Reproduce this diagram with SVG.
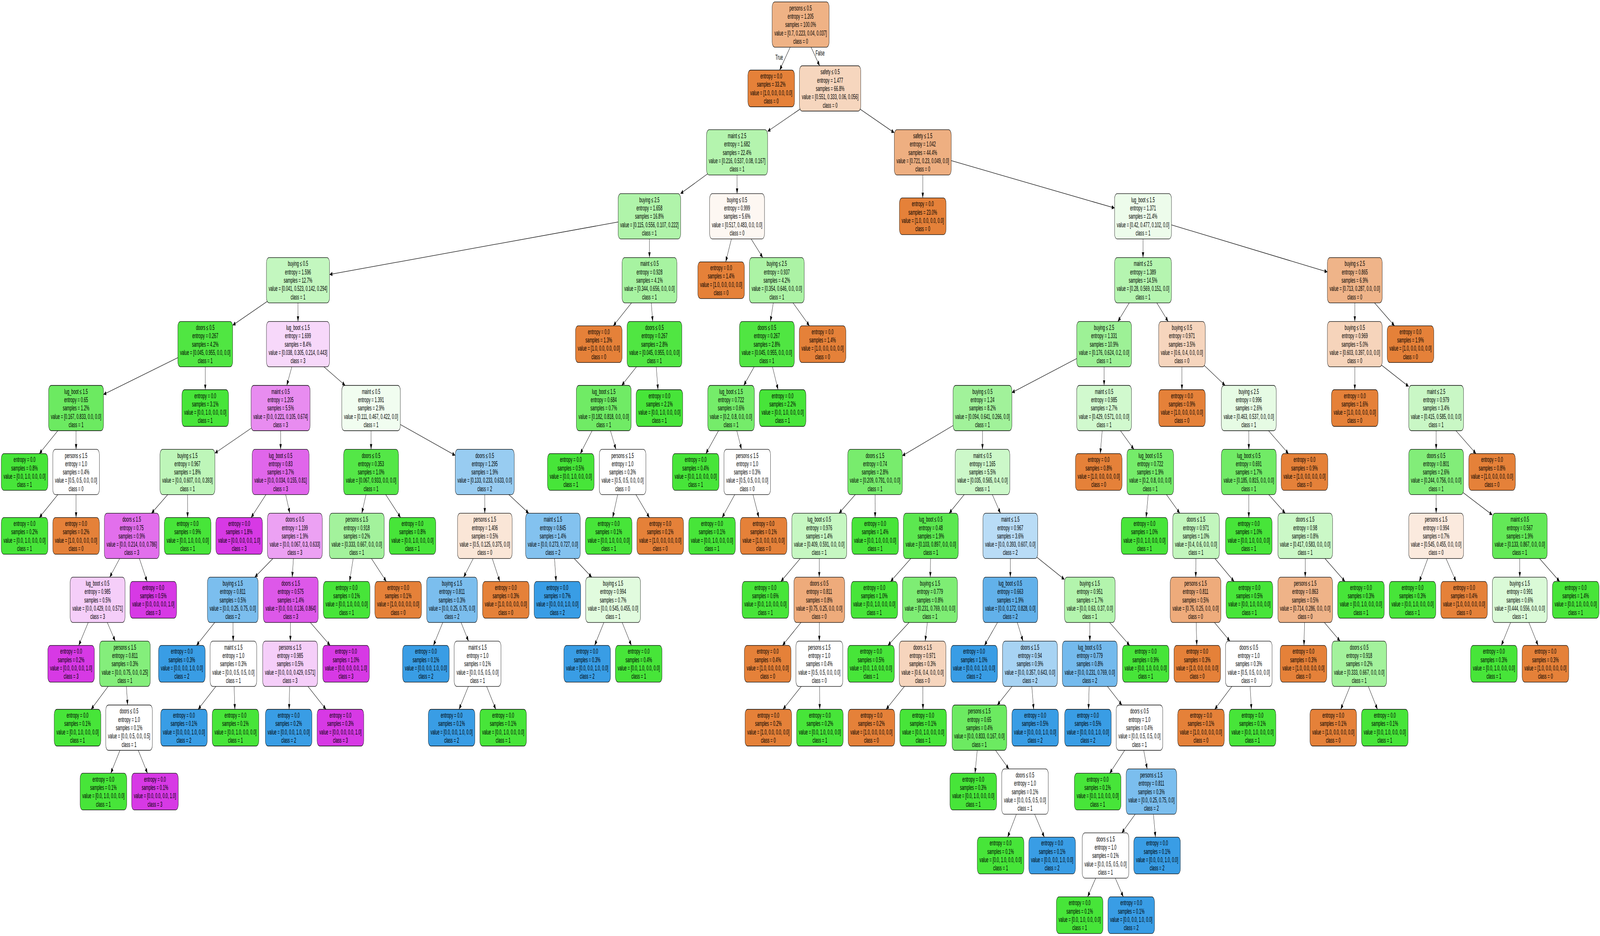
<svg xmlns="http://www.w3.org/2000/svg" width="7729" height="2397" viewBox="0 0 7729 2397" preserveAspectRatio="none">
<defs>
<style>
svg{width:100%;height:100%}
rect{stroke:#000;stroke-width:1.3px}
rect.bg{fill:#fff;stroke:none}
.o{fill:#e58139}.g{fill:#47e539}.b{fill:#399de5}.m{fill:#d739e5}.w{fill:#ffffff}
text{font-family:"Liberation Sans",Arial,Helvetica,sans-serif;font-size:18px;text-anchor:middle;fill:#000}
#edges path{stroke:#000;stroke-width:1.3px;fill:none;marker-end:url(#ah)}
</style>
<marker id="ah" markerUnits="userSpaceOnUse" markerWidth="15" markerHeight="12" refX="13.5" refY="5.5" orient="auto"><path d="M0,0 L13.5,5.5 L0,11 z" fill="#000"/></marker>
</defs>
<rect class="bg" x="0" y="0" width="7729" height="2397"/>
<g id="edges">
<path d="M3867.5,62.8 L3766.3,179.5"/>
<path d="M3867.5,62.8 L3959.5,168.5"/>
<path d="M4010,226.5 L3708,336.5"/>
<path d="M4010,226.5 L4320,339.9"/>
<path d="M3560.5,390.2 L3287.1,495.9"/>
<path d="M3560.5,390.2 L3560.5,495.9"/>
<path d="M3137,553.9 L1592,702.9"/>
<path d="M3137,553.9 L3137.3,659.6"/>
<path d="M1439.5,717.6 L1124,832.9"/>
<path d="M1439.5,717.6 L1439.5,823.3"/>
<path d="M991.5,881.3 L500,1010.2"/>
<path d="M991.5,881.3 L991.5,998"/>
<path d="M367.5,1045 L190,1161.7"/>
<path d="M367.5,1045 L367.5,1150.7"/>
<path d="M367.5,1208.7 L190,1325.4"/>
<path d="M367.5,1208.7 L367.5,1325.4"/>
<path d="M1439.5,881.3 L1385.3,987"/>
<path d="M1439.5,881.3 L1667.4,987"/>
<path d="M1355.5,1045 L1038,1160.5"/>
<path d="M1355.5,1045 L1355.5,1150.7"/>
<path d="M905.5,1208.7 L731.8,1314.4"/>
<path d="M905.5,1208.7 L906.2,1325.4"/>
<path d="M636.5,1372.4 L530,1478.1"/>
<path d="M636.5,1372.4 L710.6,1489.1"/>
<path d="M471.5,1536.1 L380.3,1652.8"/>
<path d="M471.5,1536.1 L556.7,1641.8"/>
<path d="M603.5,1699.8 L440.2,1816.5"/>
<path d="M603.5,1699.8 L616.4,1805.5"/>
<path d="M623.5,1863.5 L535.1,1980.2"/>
<path d="M623.5,1863.5 L712.6,1980.2"/>
<path d="M1355.5,1208.7 L1212.9,1325.4"/>
<path d="M1355.5,1208.7 L1400.1,1314.4"/>
<path d="M1424.5,1372.4 L1230.8,1478.1"/>
<path d="M1424.5,1372.4 L1411.6,1478.1"/>
<path d="M1124.5,1536.1 L949.1,1652.8"/>
<path d="M1124.5,1536.1 L1126.4,1641.8"/>
<path d="M1127.5,1699.8 L957.1,1816.5"/>
<path d="M1127.5,1699.8 L1134.6,1816.5"/>
<path d="M1404.5,1536.1 L1402.6,1641.8"/>
<path d="M1404.5,1536.1 L1594.8,1652.8"/>
<path d="M1401.5,1699.8 L1396.5,1816.5"/>
<path d="M1401.5,1699.8 L1574.7,1816.5"/>
<path d="M1792.5,1045 L1792.5,1150.7"/>
<path d="M1792.5,1045 L2199,1166.2"/>
<path d="M1792.5,1208.7 L1747.9,1314.4"/>
<path d="M1792.5,1208.7 L1935.1,1325.4"/>
<path d="M1723.5,1372.4 L1688.6,1489.1"/>
<path d="M1723.5,1372.4 L1866.1,1489.1"/>
<path d="M2341.5,1208.7 L2341.8,1314.4"/>
<path d="M2341.5,1208.7 L2554.3,1314.4"/>
<path d="M2342,1372.4 L2239.7,1478.1"/>
<path d="M2342,1372.4 L2414.4,1489.1"/>
<path d="M2183.5,1536.1 L2093.7,1652.8"/>
<path d="M2183.5,1536.1 L2263.2,1641.8"/>
<path d="M2307,1699.8 L2217.5,1816.5"/>
<path d="M2307,1699.8 L2395,1816.5"/>
<path d="M2671,1372.4 L2686.3,1489.1"/>
<path d="M2671,1372.4 L2858.6,1478.1"/>
<path d="M2961.5,1536.1 L2872.4,1652.8"/>
<path d="M2961.5,1536.1 L3049.9,1652.8"/>
<path d="M3137.5,717.6 L2962.8,834.3"/>
<path d="M3137.5,717.6 L3153,823.3"/>
<path d="M3161.5,881.3 L3003.3,987"/>
<path d="M3161.5,881.3 L3178.6,998"/>
<path d="M2916.5,1045 L2803.2,1161.7"/>
<path d="M2916.5,1045 L2975.3,1150.7"/>
<path d="M3007.5,1208.7 L2959.7,1325.4"/>
<path d="M3007.5,1208.7 L3137.2,1325.4"/>
<path d="M3560.5,553.9 L3505.6,670.6"/>
<path d="M3560.5,553.9 L3684.5,659.6"/>
<path d="M3752.5,717.6 L3721.5,823.3"/>
<path d="M3752.5,717.6 L3910,834.3"/>
<path d="M3704.5,881.3 L3592.8,987"/>
<path d="M3704.5,881.3 L3758.7,998"/>
<path d="M3531.5,1045 L3409.6,1161.7"/>
<path d="M3531.5,1045 L3581.9,1150.7"/>
<path d="M3609.5,1208.7 L3488.3,1325.4"/>
<path d="M3609.5,1208.7 L3665.8,1325.4"/>
<path d="M4457.5,390.2 L4457.5,506.9"/>
<path d="M4457.5,390.2 L5384,532.7"/>
<path d="M5521.5,553.9 L5521.5,659.6"/>
<path d="M5521.5,553.9 L6412,696.4"/>
<path d="M5521.5,717.6 L5400.1,823.3"/>
<path d="M5521.5,717.6 L5642.9,823.3"/>
<path d="M5333.5,881.3 L4888,1005.4"/>
<path d="M5333.5,881.3 L5333.5,987"/>
<path d="M4746,1045 L4359,1167.1"/>
<path d="M4746,1045 L4746,1150.7"/>
<path d="M4227,1208.7 L4053,1314.4"/>
<path d="M4227,1208.7 L4227.4,1325.4"/>
<path d="M3957.5,1372.4 L3772.1,1489.1"/>
<path d="M3957.5,1372.4 L3957.5,1478.1"/>
<path d="M3957.5,1536.1 L3780,1652.8"/>
<path d="M3957.5,1536.1 L3957.8,1641.8"/>
<path d="M3958,1699.8 L3782.3,1816.5"/>
<path d="M3958,1699.8 L3959.8,1816.5"/>
<path d="M4746,1208.7 L4584.9,1314.4"/>
<path d="M4746,1208.7 L4832.8,1314.4"/>
<path d="M4496.5,1372.4 L4301.9,1489.1"/>
<path d="M4496.5,1372.4 L4493.9,1478.1"/>
<path d="M4492.5,1536.1 L4289.3,1652.8"/>
<path d="M4492.5,1536.1 L4469.3,1641.8"/>
<path d="M4456.5,1699.8 L4280.4,1816.5"/>
<path d="M4456.5,1699.8 L4458.6,1816.5"/>
<path d="M4880.5,1372.4 L4880.5,1478.1"/>
<path d="M4880.5,1372.4 L5142,1483.9"/>
<path d="M4880.5,1536.1 L4755.7,1652.8"/>
<path d="M4880.5,1536.1 L4941.8,1641.8"/>
<path d="M4975.5,1699.8 L4817.6,1805.5"/>
<path d="M4975.5,1699.8 L4993.3,1816.5"/>
<path d="M4731,1863.5 L4710,1980.2"/>
<path d="M4731,1863.5 L4873.4,1969.2"/>
<path d="M4951.5,2027.2 L4867.4,2143.9"/>
<path d="M4951.5,2027.2 L5044.9,2143.9"/>
<path d="M5264.5,1536.1 L5264.5,1641.8"/>
<path d="M5264.5,1536.1 L5457,1652.8"/>
<path d="M5264.5,1699.8 L5258.1,1816.5"/>
<path d="M5264.5,1699.8 L5419.5,1805.5"/>
<path d="M5504.5,1863.5 L5360.5,1980.2"/>
<path d="M5504.5,1863.5 L5541.6,1969.2"/>
<path d="M5562,2027.2 L5419,2132.9"/>
<path d="M5562,2027.2 L5581.6,2143.9"/>
<path d="M5340.5,2190.9 L5253.9,2296.7"/>
<path d="M5340.5,2190.9 L5426.4,2296.7"/>
<path d="M5333.5,1045 L5315,1161.7"/>
<path d="M5333.5,1045 L5477.5,1150.7"/>
<path d="M5556.5,1208.7 L5536.5,1325.4"/>
<path d="M5556.5,1208.7 L5699.2,1314.4"/>
<path d="M5777.5,1372.4 L5776.2,1478.1"/>
<path d="M5777.5,1372.4 L5961.4,1489.1"/>
<path d="M5775.5,1536.1 L5781.2,1652.8"/>
<path d="M5775.5,1536.1 L5941.4,1641.8"/>
<path d="M6032.5,1699.8 L5867.8,1816.5"/>
<path d="M6032.5,1699.8 L6045.3,1816.5"/>
<path d="M5709.5,881.3 L5709.5,998"/>
<path d="M5709.5,881.3 L5918.1,987"/>
<path d="M6032.5,1045 L6032.5,1150.7"/>
<path d="M6032.5,1045 L6224.3,1161.7"/>
<path d="M6032.5,1208.7 L6032.5,1325.4"/>
<path d="M6032.5,1208.7 L6208.5,1314.4"/>
<path d="M6305,1372.4 L6305,1478.1"/>
<path d="M6305,1372.4 L6497.1,1489.1"/>
<path d="M6305,1536.1 L6298.9,1652.8"/>
<path d="M6305,1536.1 L6473.5,1641.8"/>
<path d="M6566,1699.8 L6476.5,1816.5"/>
<path d="M6566,1699.8 L6654,1816.5"/>
<path d="M6544.5,717.6 L6544.5,823.3"/>
<path d="M6544.5,717.6 L6736.3,834.3"/>
<path d="M6544.5,881.3 L6544.5,998"/>
<path d="M6544.5,881.3 L6805,989.8"/>
<path d="M6937.5,1045 L6937.5,1150.7"/>
<path d="M6937.5,1045 L7130,1161.7"/>
<path d="M6937.5,1208.7 L6937.5,1314.4"/>
<path d="M6937.5,1208.7 L7209,1318.7"/>
<path d="M6937.5,1372.4 L6856.2,1489.1"/>
<path d="M6937.5,1372.4 L7033.7,1489.1"/>
<path d="M7341.5,1372.4 L7341.5,1478.1"/>
<path d="M7341.5,1372.4 L7534,1489.1"/>
<path d="M7341.5,1536.1 L7252.4,1652.8"/>
<path d="M7341.5,1536.1 L7429.9,1652.8"/>
</g>
<g id="edge-labels">
<text x="3764" y="152.7">True</text>
<text x="3961.5" y="142">False</text>
</g>
<g id="nodes">
<g id="n0"><rect x="3730" y="4.8" width="275" height="116" rx="13" fill="#efb285"/><text x="3867.5" y="26.7"><tspan x="3867.5">persons ≤ 0.5</tspan><tspan x="3867.5" dy="21.3">entropy = 1.205</tspan><tspan x="3867.5" dy="21.3">samples = 100.0%</tspan><tspan x="3867.5" dy="21.3">value = [0.7, 0.223, 0.04, 0.037]</tspan><tspan x="3867.5" dy="21.3">class = 0</tspan></text></g>
<g id="n1"><rect class="o" x="3613" y="179.5" width="225" height="94" rx="13"/><text x="3725.5" y="201.05"><tspan x="3725.5">entropy = 0.0</tspan><tspan x="3725.5" dy="21.3">samples = 33.2%</tspan><tspan x="3725.5" dy="21.3">value = [1.0, 0.0, 0.0, 0.0]</tspan><tspan x="3725.5" dy="21.3">class = 0</tspan></text></g>
<g id="n2"><rect x="3862" y="168.5" width="296" height="116" rx="13" fill="#f6d6be"/><text x="4010" y="190.4"><tspan x="4010">safety ≤ 0.5</tspan><tspan x="4010" dy="21.3">entropy = 1.477</tspan><tspan x="4010" dy="21.3">samples = 66.8%</tspan><tspan x="4010" dy="21.3">value = [0.551, 0.333, 0.06, 0.056]</tspan><tspan x="4010" dy="21.3">class = 0</tspan></text></g>
<g id="n3"><rect x="3413" y="332.2" width="295" height="116" rx="13" fill="#b4f4ae"/><text x="3560.5" y="354.1"><tspan x="3560.5">maint ≤ 2.5</tspan><tspan x="3560.5" dy="21.3">entropy = 1.682</tspan><tspan x="3560.5" dy="21.3">samples = 22.4%</tspan><tspan x="3560.5" dy="21.3">value = [0.216, 0.537, 0.08, 0.167]</tspan><tspan x="3560.5" dy="21.3">class = 1</tspan></text></g>
<g id="n4"><rect x="2986" y="495.9" width="302" height="116" rx="13" fill="#b0f4aa"/><text x="3137" y="517.8"><tspan x="3137">buying ≤ 2.5</tspan><tspan x="3137" dy="21.3">entropy = 1.658</tspan><tspan x="3137" dy="21.3">samples = 16.8%</tspan><tspan x="3137" dy="21.3">value = [0.115, 0.556, 0.107, 0.222]</tspan><tspan x="3137" dy="21.3">class = 1</tspan></text></g>
<g id="n5"><rect x="1287" y="659.6" width="305" height="116" rx="13" fill="#c3f7bf"/><text x="1439.5" y="681.5"><tspan x="1439.5">buying ≤ 0.5</tspan><tspan x="1439.5" dy="21.3">entropy = 1.596</tspan><tspan x="1439.5" dy="21.3">samples = 12.7%</tspan><tspan x="1439.5" dy="21.3">value = [0.041, 0.523, 0.142, 0.294]</tspan><tspan x="1439.5" dy="21.3">class = 1</tspan></text></g>
<g id="n6"><rect x="859" y="823.3" width="265" height="116" rx="13" fill="#50e642"/><text x="991.5" y="845.2"><tspan x="991.5">doors ≤ 0.5</tspan><tspan x="991.5" dy="21.3">entropy = 0.267</tspan><tspan x="991.5" dy="21.3">samples = 4.2%</tspan><tspan x="991.5" dy="21.3">value = [0.045, 0.955, 0.0, 0.0]</tspan><tspan x="991.5" dy="21.3">class = 1</tspan></text></g>
<g id="n7"><rect x="235" y="987" width="265" height="116" rx="13" fill="#6cea61"/><text x="367.5" y="1008.9"><tspan x="367.5">lug_boot ≤ 1.5</tspan><tspan x="367.5" dy="21.3">entropy = 0.65</tspan><tspan x="367.5" dy="21.3">samples = 1.2%</tspan><tspan x="367.5" dy="21.3">value = [0.167, 0.833, 0.0, 0.0]</tspan><tspan x="367.5" dy="21.3">class = 1</tspan></text></g>
<g id="n8"><rect class="g" x="6" y="1161.7" width="225" height="94" rx="13"/><text x="118.5" y="1183.25"><tspan x="118.5">entropy = 0.0</tspan><tspan x="118.5" dy="21.3">samples = 0.8%</tspan><tspan x="118.5" dy="21.3">value = [0.0, 1.0, 0.0, 0.0]</tspan><tspan x="118.5" dy="21.3">class = 1</tspan></text></g>
<g id="n9"><rect class="w" x="255" y="1150.7" width="225" height="116" rx="13"/><text x="367.5" y="1172.6"><tspan x="367.5">persons ≤ 1.5</tspan><tspan x="367.5" dy="21.3">entropy = 1.0</tspan><tspan x="367.5" dy="21.3">samples = 0.4%</tspan><tspan x="367.5" dy="21.3">value = [0.5, 0.5, 0.0, 0.0]</tspan><tspan x="367.5" dy="21.3">class = 0</tspan></text></g>
<g id="n10"><rect class="g" x="6" y="1325.4" width="225" height="94" rx="13"/><text x="118.5" y="1346.95"><tspan x="118.5">entropy = 0.0</tspan><tspan x="118.5" dy="21.3">samples = 0.2%</tspan><tspan x="118.5" dy="21.3">value = [0.0, 1.0, 0.0, 0.0]</tspan><tspan x="118.5" dy="21.3">class = 1</tspan></text></g>
<g id="n11"><rect class="o" x="255" y="1325.4" width="225" height="94" rx="13"/><text x="367.5" y="1346.95"><tspan x="367.5">entropy = 0.0</tspan><tspan x="367.5" dy="21.3">samples = 0.2%</tspan><tspan x="367.5" dy="21.3">value = [1.0, 0.0, 0.0, 0.0]</tspan><tspan x="367.5" dy="21.3">class = 0</tspan></text></g>
<g id="n12"><rect class="g" x="879" y="998" width="225" height="94" rx="13"/><text x="991.5" y="1019.55"><tspan x="991.5">entropy = 0.0</tspan><tspan x="991.5" dy="21.3">samples = 3.1%</tspan><tspan x="991.5" dy="21.3">value = [0.0, 1.0, 0.0, 0.0]</tspan><tspan x="991.5" dy="21.3">class = 1</tspan></text></g>
<g id="n13"><rect x="1287" y="823.3" width="305" height="116" rx="13" fill="#f7d8fa"/><text x="1439.5" y="845.2"><tspan x="1439.5">lug_boot ≤ 1.5</tspan><tspan x="1439.5" dy="21.3">entropy = 1.699</tspan><tspan x="1439.5" dy="21.3">samples = 8.4%</tspan><tspan x="1439.5" dy="21.3">value = [0.038, 0.305, 0.214, 0.443]</tspan><tspan x="1439.5" dy="21.3">class = 3</tspan></text></g>
<g id="n14"><rect x="1213" y="987" width="285" height="116" rx="13" fill="#e88cf0"/><text x="1355.5" y="1008.9"><tspan x="1355.5">maint ≤ 0.5</tspan><tspan x="1355.5" dy="21.3">entropy = 1.205</tspan><tspan x="1355.5" dy="21.3">samples = 5.5%</tspan><tspan x="1355.5" dy="21.3">value = [0.0, 0.221, 0.105, 0.674]</tspan><tspan x="1355.5" dy="21.3">class = 3</tspan></text></g>
<g id="n15"><rect x="773" y="1150.7" width="265" height="116" rx="13" fill="#bef6b9"/><text x="905.5" y="1172.6"><tspan x="905.5">buying ≤ 1.5</tspan><tspan x="905.5" dy="21.3">entropy = 0.967</tspan><tspan x="905.5" dy="21.3">samples = 1.8%</tspan><tspan x="905.5" dy="21.3">value = [0.0, 0.607, 0.0, 0.393]</tspan><tspan x="905.5" dy="21.3">class = 1</tspan></text></g>
<g id="n16"><rect x="504" y="1314.4" width="265" height="116" rx="13" fill="#e26fec"/><text x="636.5" y="1336.3"><tspan x="636.5">doors ≤ 1.5</tspan><tspan x="636.5" dy="21.3">entropy = 0.75</tspan><tspan x="636.5" dy="21.3">samples = 0.9%</tspan><tspan x="636.5" dy="21.3">value = [0.0, 0.214, 0.0, 0.786]</tspan><tspan x="636.5" dy="21.3">class = 3</tspan></text></g>
<g id="n17"><rect x="339" y="1478.1" width="265" height="116" rx="13" fill="#f5cef9"/><text x="471.5" y="1500"><tspan x="471.5">lug_boot ≤ 0.5</tspan><tspan x="471.5" dy="21.3">entropy = 0.985</tspan><tspan x="471.5" dy="21.3">samples = 0.5%</tspan><tspan x="471.5" dy="21.3">value = [0.0, 0.429, 0.0, 0.571]</tspan><tspan x="471.5" dy="21.3">class = 3</tspan></text></g>
<g id="n18"><rect class="m" x="231" y="1652.8" width="225" height="94" rx="13"/><text x="343.5" y="1674.35"><tspan x="343.5">entropy = 0.0</tspan><tspan x="343.5" dy="21.3">samples = 0.2%</tspan><tspan x="343.5" dy="21.3">value = [0.0, 0.0, 0.0, 1.0]</tspan><tspan x="343.5" dy="21.3">class = 3</tspan></text></g>
<g id="n19"><rect x="481" y="1641.8" width="245" height="116" rx="13" fill="#84ee7b"/><text x="603.5" y="1663.7"><tspan x="603.5">persons ≤ 1.5</tspan><tspan x="603.5" dy="21.3">entropy = 0.811</tspan><tspan x="603.5" dy="21.3">samples = 0.3%</tspan><tspan x="603.5" dy="21.3">value = [0.0, 0.75, 0.0, 0.25]</tspan><tspan x="603.5" dy="21.3">class = 1</tspan></text></g>
<g id="n20"><rect class="g" x="262" y="1816.5" width="225" height="94" rx="13"/><text x="374.5" y="1838.05"><tspan x="374.5">entropy = 0.0</tspan><tspan x="374.5" dy="21.3">samples = 0.1%</tspan><tspan x="374.5" dy="21.3">value = [0.0, 1.0, 0.0, 0.0]</tspan><tspan x="374.5" dy="21.3">class = 1</tspan></text></g>
<g id="n21"><rect class="w" x="511" y="1805.5" width="225" height="116" rx="13"/><text x="623.5" y="1827.4"><tspan x="623.5">doors ≤ 0.5</tspan><tspan x="623.5" dy="21.3">entropy = 1.0</tspan><tspan x="623.5" dy="21.3">samples = 0.1%</tspan><tspan x="623.5" dy="21.3">value = [0.0, 0.5, 0.0, 0.5]</tspan><tspan x="623.5" dy="21.3">class = 1</tspan></text></g>
<g id="n22"><rect class="g" x="387" y="1980.2" width="225" height="94" rx="13"/><text x="499.5" y="2001.75"><tspan x="499.5">entropy = 0.0</tspan><tspan x="499.5" dy="21.3">samples = 0.1%</tspan><tspan x="499.5" dy="21.3">value = [0.0, 1.0, 0.0, 0.0]</tspan><tspan x="499.5" dy="21.3">class = 1</tspan></text></g>
<g id="n23"><rect class="m" x="636" y="1980.2" width="225" height="94" rx="13"/><text x="748.5" y="2001.75"><tspan x="748.5">entropy = 0.0</tspan><tspan x="748.5" dy="21.3">samples = 0.1%</tspan><tspan x="748.5" dy="21.3">value = [0.0, 0.0, 0.0, 1.0]</tspan><tspan x="748.5" dy="21.3">class = 3</tspan></text></g>
<g id="n24"><rect class="m" x="628" y="1489.1" width="225" height="94" rx="13"/><text x="740.5" y="1510.65"><tspan x="740.5">entropy = 0.0</tspan><tspan x="740.5" dy="21.3">samples = 0.5%</tspan><tspan x="740.5" dy="21.3">value = [0.0, 0.0, 0.0, 1.0]</tspan><tspan x="740.5" dy="21.3">class = 3</tspan></text></g>
<g id="n25"><rect class="g" x="794" y="1325.4" width="225" height="94" rx="13"/><text x="906.5" y="1346.95"><tspan x="906.5">entropy = 0.0</tspan><tspan x="906.5" dy="21.3">samples = 0.9%</tspan><tspan x="906.5" dy="21.3">value = [0.0, 1.0, 0.0, 0.0]</tspan><tspan x="906.5" dy="21.3">class = 1</tspan></text></g>
<g id="n26"><rect x="1218" y="1150.7" width="275" height="116" rx="13" fill="#e066eb"/><text x="1355.5" y="1172.6"><tspan x="1355.5">lug_boot ≤ 0.5</tspan><tspan x="1355.5" dy="21.3">entropy = 0.83</tspan><tspan x="1355.5" dy="21.3">samples = 3.7%</tspan><tspan x="1355.5" dy="21.3">value = [0.0, 0.034, 0.155, 0.81]</tspan><tspan x="1355.5" dy="21.3">class = 3</tspan></text></g>
<g id="n27"><rect class="m" x="1043" y="1325.4" width="225" height="94" rx="13"/><text x="1155.5" y="1346.95"><tspan x="1155.5">entropy = 0.0</tspan><tspan x="1155.5" dy="21.3">samples = 1.8%</tspan><tspan x="1155.5" dy="21.3">value = [0.0, 0.0, 0.0, 1.0]</tspan><tspan x="1155.5" dy="21.3">class = 3</tspan></text></g>
<g id="n28"><rect x="1292" y="1314.4" width="265" height="116" rx="13" fill="#eca1f3"/><text x="1424.5" y="1336.3"><tspan x="1424.5">doors ≤ 0.5</tspan><tspan x="1424.5" dy="21.3">entropy = 1.199</tspan><tspan x="1424.5" dy="21.3">samples = 1.9%</tspan><tspan x="1424.5" dy="21.3">value = [0.0, 0.067, 0.3, 0.633]</tspan><tspan x="1424.5" dy="21.3">class = 3</tspan></text></g>
<g id="n29"><rect x="1002" y="1478.1" width="245" height="116" rx="13" fill="#7bbeee"/><text x="1124.5" y="1500"><tspan x="1124.5">buying ≤ 1.5</tspan><tspan x="1124.5" dy="21.3">entropy = 0.811</tspan><tspan x="1124.5" dy="21.3">samples = 0.5%</tspan><tspan x="1124.5" dy="21.3">value = [0.0, 0.25, 0.75, 0.0]</tspan><tspan x="1124.5" dy="21.3">class = 2</tspan></text></g>
<g id="n30"><rect class="b" x="766" y="1652.8" width="225" height="94" rx="13"/><text x="878.5" y="1674.35"><tspan x="878.5">entropy = 0.0</tspan><tspan x="878.5" dy="21.3">samples = 0.3%</tspan><tspan x="878.5" dy="21.3">value = [0.0, 0.0, 1.0, 0.0]</tspan><tspan x="878.5" dy="21.3">class = 2</tspan></text></g>
<g id="n31"><rect class="w" x="1015" y="1641.8" width="225" height="116" rx="13"/><text x="1127.5" y="1663.7"><tspan x="1127.5">maint ≤ 1.5</tspan><tspan x="1127.5" dy="21.3">entropy = 1.0</tspan><tspan x="1127.5" dy="21.3">samples = 0.3%</tspan><tspan x="1127.5" dy="21.3">value = [0.0, 0.5, 0.5, 0.0]</tspan><tspan x="1127.5" dy="21.3">class = 1</tspan></text></g>
<g id="n32"><rect class="b" x="776" y="1816.5" width="225" height="94" rx="13"/><text x="888.5" y="1838.05"><tspan x="888.5">entropy = 0.0</tspan><tspan x="888.5" dy="21.3">samples = 0.1%</tspan><tspan x="888.5" dy="21.3">value = [0.0, 0.0, 1.0, 0.0]</tspan><tspan x="888.5" dy="21.3">class = 2</tspan></text></g>
<g id="n33"><rect class="g" x="1025" y="1816.5" width="225" height="94" rx="13"/><text x="1137.5" y="1838.05"><tspan x="1137.5">entropy = 0.0</tspan><tspan x="1137.5" dy="21.3">samples = 0.1%</tspan><tspan x="1137.5" dy="21.3">value = [0.0, 1.0, 0.0, 0.0]</tspan><tspan x="1137.5" dy="21.3">class = 1</tspan></text></g>
<g id="n34"><rect x="1272" y="1478.1" width="265" height="116" rx="13" fill="#dd58e9"/><text x="1404.5" y="1500"><tspan x="1404.5">doors ≤ 1.5</tspan><tspan x="1404.5" dy="21.3">entropy = 0.575</tspan><tspan x="1404.5" dy="21.3">samples = 1.4%</tspan><tspan x="1404.5" dy="21.3">value = [0.0, 0.0, 0.136, 0.864]</tspan><tspan x="1404.5" dy="21.3">class = 3</tspan></text></g>
<g id="n35"><rect x="1269" y="1641.8" width="265" height="116" rx="13" fill="#f5cef9"/><text x="1401.5" y="1663.7"><tspan x="1401.5">persons ≤ 1.5</tspan><tspan x="1401.5" dy="21.3">entropy = 0.985</tspan><tspan x="1401.5" dy="21.3">samples = 0.5%</tspan><tspan x="1401.5" dy="21.3">value = [0.0, 0.0, 0.429, 0.571]</tspan><tspan x="1401.5" dy="21.3">class = 3</tspan></text></g>
<g id="n36"><rect class="b" x="1282" y="1816.5" width="225" height="94" rx="13"/><text x="1394.5" y="1838.05"><tspan x="1394.5">entropy = 0.0</tspan><tspan x="1394.5" dy="21.3">samples = 0.2%</tspan><tspan x="1394.5" dy="21.3">value = [0.0, 0.0, 1.0, 0.0]</tspan><tspan x="1394.5" dy="21.3">class = 2</tspan></text></g>
<g id="n37"><rect class="m" x="1532" y="1816.5" width="225" height="94" rx="13"/><text x="1644.5" y="1838.05"><tspan x="1644.5">entropy = 0.0</tspan><tspan x="1644.5" dy="21.3">samples = 0.3%</tspan><tspan x="1644.5" dy="21.3">value = [0.0, 0.0, 0.0, 1.0]</tspan><tspan x="1644.5" dy="21.3">class = 3</tspan></text></g>
<g id="n38"><rect class="m" x="1559" y="1652.8" width="225" height="94" rx="13"/><text x="1671.5" y="1674.35"><tspan x="1671.5">entropy = 0.0</tspan><tspan x="1671.5" dy="21.3">samples = 1.0%</tspan><tspan x="1671.5" dy="21.3">value = [0.0, 0.0, 0.0, 1.0]</tspan><tspan x="1671.5" dy="21.3">class = 3</tspan></text></g>
<g id="n39"><rect x="1651" y="987" width="283" height="116" rx="13" fill="#f1fdf0"/><text x="1792.5" y="1008.9"><tspan x="1792.5">maint ≤ 0.5</tspan><tspan x="1792.5" dy="21.3">entropy = 1.391</tspan><tspan x="1792.5" dy="21.3">samples = 2.9%</tspan><tspan x="1792.5" dy="21.3">value = [0.111, 0.467, 0.422, 0.0]</tspan><tspan x="1792.5" dy="21.3">class = 1</tspan></text></g>
<g id="n40"><rect x="1660" y="1150.7" width="265" height="116" rx="13" fill="#54e747"/><text x="1792.5" y="1172.6"><tspan x="1792.5">doors ≤ 0.5</tspan><tspan x="1792.5" dy="21.3">entropy = 0.353</tspan><tspan x="1792.5" dy="21.3">samples = 1.0%</tspan><tspan x="1792.5" dy="21.3">value = [0.067, 0.933, 0.0, 0.0]</tspan><tspan x="1792.5" dy="21.3">class = 1</tspan></text></g>
<g id="n41"><rect x="1591" y="1314.4" width="265" height="116" rx="13" fill="#a3f29c"/><text x="1723.5" y="1336.3"><tspan x="1723.5">persons ≤ 1.5</tspan><tspan x="1723.5" dy="21.3">entropy = 0.918</tspan><tspan x="1723.5" dy="21.3">samples = 0.2%</tspan><tspan x="1723.5" dy="21.3">value = [0.333, 0.667, 0.0, 0.0]</tspan><tspan x="1723.5" dy="21.3">class = 1</tspan></text></g>
<g id="n42"><rect class="g" x="1562" y="1489.1" width="225" height="94" rx="13"/><text x="1674.5" y="1510.65"><tspan x="1674.5">entropy = 0.0</tspan><tspan x="1674.5" dy="21.3">samples = 0.1%</tspan><tspan x="1674.5" dy="21.3">value = [0.0, 1.0, 0.0, 0.0]</tspan><tspan x="1674.5" dy="21.3">class = 1</tspan></text></g>
<g id="n43"><rect class="o" x="1811" y="1489.1" width="225" height="94" rx="13"/><text x="1923.5" y="1510.65"><tspan x="1923.5">entropy = 0.0</tspan><tspan x="1923.5" dy="21.3">samples = 0.1%</tspan><tspan x="1923.5" dy="21.3">value = [1.0, 0.0, 0.0, 0.0]</tspan><tspan x="1923.5" dy="21.3">class = 0</tspan></text></g>
<g id="n44"><rect class="g" x="1880" y="1325.4" width="225" height="94" rx="13"/><text x="1992.5" y="1346.95"><tspan x="1992.5">entropy = 0.0</tspan><tspan x="1992.5" dy="21.3">samples = 0.8%</tspan><tspan x="1992.5" dy="21.3">value = [0.0, 1.0, 0.0, 0.0]</tspan><tspan x="1992.5" dy="21.3">class = 1</tspan></text></g>
<g id="n45"><rect x="2199" y="1150.7" width="285" height="116" rx="13" fill="#98ccf1"/><text x="2341.5" y="1172.6"><tspan x="2341.5">doors ≤ 0.5</tspan><tspan x="2341.5" dy="21.3">entropy = 1.295</tspan><tspan x="2341.5" dy="21.3">samples = 1.9%</tspan><tspan x="2341.5" dy="21.3">value = [0.133, 0.233, 0.633, 0.0]</tspan><tspan x="2341.5" dy="21.3">class = 2</tspan></text></g>
<g id="n46"><rect x="2210" y="1314.4" width="264" height="116" rx="13" fill="#fae6d7"/><text x="2342" y="1336.3"><tspan x="2342">persons ≤ 1.5</tspan><tspan x="2342" dy="21.3">entropy = 1.406</tspan><tspan x="2342" dy="21.3">samples = 0.5%</tspan><tspan x="2342" dy="21.3">value = [0.5, 0.125, 0.375, 0.0]</tspan><tspan x="2342" dy="21.3">class = 0</tspan></text></g>
<g id="n47"><rect x="2061" y="1478.1" width="245" height="116" rx="13" fill="#7bbeee"/><text x="2183.5" y="1500"><tspan x="2183.5">buying ≤ 1.5</tspan><tspan x="2183.5" dy="21.3">entropy = 0.811</tspan><tspan x="2183.5" dy="21.3">samples = 0.3%</tspan><tspan x="2183.5" dy="21.3">value = [0.0, 0.25, 0.75, 0.0]</tspan><tspan x="2183.5" dy="21.3">class = 2</tspan></text></g>
<g id="n48"><rect class="b" x="1945" y="1652.8" width="225" height="94" rx="13"/><text x="2057.5" y="1674.35"><tspan x="2057.5">entropy = 0.0</tspan><tspan x="2057.5" dy="21.3">samples = 0.1%</tspan><tspan x="2057.5" dy="21.3">value = [0.0, 0.0, 1.0, 0.0]</tspan><tspan x="2057.5" dy="21.3">class = 2</tspan></text></g>
<g id="n49"><rect class="w" x="2194" y="1641.8" width="226" height="116" rx="13"/><text x="2307" y="1663.7"><tspan x="2307">maint ≤ 1.5</tspan><tspan x="2307" dy="21.3">entropy = 1.0</tspan><tspan x="2307" dy="21.3">samples = 0.1%</tspan><tspan x="2307" dy="21.3">value = [0.0, 0.5, 0.5, 0.0]</tspan><tspan x="2307" dy="21.3">class = 1</tspan></text></g>
<g id="n50"><rect class="b" x="2069" y="1816.5" width="225" height="94" rx="13"/><text x="2181.5" y="1838.05"><tspan x="2181.5">entropy = 0.0</tspan><tspan x="2181.5" dy="21.3">samples = 0.1%</tspan><tspan x="2181.5" dy="21.3">value = [0.0, 0.0, 1.0, 0.0]</tspan><tspan x="2181.5" dy="21.3">class = 2</tspan></text></g>
<g id="n51"><rect class="g" x="2318" y="1816.5" width="225" height="94" rx="13"/><text x="2430.5" y="1838.05"><tspan x="2430.5">entropy = 0.0</tspan><tspan x="2430.5" dy="21.3">samples = 0.1%</tspan><tspan x="2430.5" dy="21.3">value = [0.0, 1.0, 0.0, 0.0]</tspan><tspan x="2430.5" dy="21.3">class = 1</tspan></text></g>
<g id="n52"><rect class="o" x="2331" y="1489.1" width="225" height="94" rx="13"/><text x="2443.5" y="1510.65"><tspan x="2443.5">entropy = 0.0</tspan><tspan x="2443.5" dy="21.3">samples = 0.3%</tspan><tspan x="2443.5" dy="21.3">value = [1.0, 0.0, 0.0, 0.0]</tspan><tspan x="2443.5" dy="21.3">class = 0</tspan></text></g>
<g id="n53"><rect x="2539" y="1314.4" width="264" height="116" rx="13" fill="#83c2ef"/><text x="2671" y="1336.3"><tspan x="2671">maint ≤ 1.5</tspan><tspan x="2671" dy="21.3">entropy = 0.845</tspan><tspan x="2671" dy="21.3">samples = 1.4%</tspan><tspan x="2671" dy="21.3">value = [0.0, 0.273, 0.727, 0.0]</tspan><tspan x="2671" dy="21.3">class = 2</tspan></text></g>
<g id="n54"><rect class="b" x="2580" y="1489.1" width="225" height="94" rx="13"/><text x="2692.5" y="1510.65"><tspan x="2692.5">entropy = 0.0</tspan><tspan x="2692.5" dy="21.3">samples = 0.7%</tspan><tspan x="2692.5" dy="21.3">value = [0.0, 0.0, 1.0, 0.0]</tspan><tspan x="2692.5" dy="21.3">class = 2</tspan></text></g>
<g id="n55"><rect x="2829" y="1478.1" width="265" height="116" rx="13" fill="#e1fbde"/><text x="2961.5" y="1500"><tspan x="2961.5">buying ≤ 1.5</tspan><tspan x="2961.5" dy="21.3">entropy = 0.994</tspan><tspan x="2961.5" dy="21.3">samples = 0.7%</tspan><tspan x="2961.5" dy="21.3">value = [0.0, 0.545, 0.455, 0.0]</tspan><tspan x="2961.5" dy="21.3">class = 1</tspan></text></g>
<g id="n56"><rect class="b" x="2724" y="1652.8" width="225" height="94" rx="13"/><text x="2836.5" y="1674.35"><tspan x="2836.5">entropy = 0.0</tspan><tspan x="2836.5" dy="21.3">samples = 0.3%</tspan><tspan x="2836.5" dy="21.3">value = [0.0, 0.0, 1.0, 0.0]</tspan><tspan x="2836.5" dy="21.3">class = 2</tspan></text></g>
<g id="n57"><rect class="g" x="2973" y="1652.8" width="225" height="94" rx="13"/><text x="3085.5" y="1674.35"><tspan x="3085.5">entropy = 0.0</tspan><tspan x="3085.5" dy="21.3">samples = 0.4%</tspan><tspan x="3085.5" dy="21.3">value = [0.0, 1.0, 0.0, 0.0]</tspan><tspan x="3085.5" dy="21.3">class = 1</tspan></text></g>
<g id="n58"><rect x="3005" y="659.6" width="265" height="116" rx="13" fill="#a7f3a1"/><text x="3137.5" y="681.5"><tspan x="3137.5">maint ≤ 0.5</tspan><tspan x="3137.5" dy="21.3">entropy = 0.928</tspan><tspan x="3137.5" dy="21.3">samples = 4.1%</tspan><tspan x="3137.5" dy="21.3">value = [0.344, 0.656, 0.0, 0.0]</tspan><tspan x="3137.5" dy="21.3">class = 1</tspan></text></g>
<g id="n59"><rect class="o" x="2780" y="834.3" width="225" height="94" rx="13"/><text x="2892.5" y="855.85"><tspan x="2892.5">entropy = 0.0</tspan><tspan x="2892.5" dy="21.3">samples = 1.3%</tspan><tspan x="2892.5" dy="21.3">value = [1.0, 0.0, 0.0, 0.0]</tspan><tspan x="2892.5" dy="21.3">class = 0</tspan></text></g>
<g id="n60"><rect x="3029" y="823.3" width="265" height="116" rx="13" fill="#50e642"/><text x="3161.5" y="845.2"><tspan x="3161.5">doors ≤ 0.5</tspan><tspan x="3161.5" dy="21.3">entropy = 0.267</tspan><tspan x="3161.5" dy="21.3">samples = 2.8%</tspan><tspan x="3161.5" dy="21.3">value = [0.045, 0.955, 0.0, 0.0]</tspan><tspan x="3161.5" dy="21.3">class = 1</tspan></text></g>
<g id="n61"><rect x="2784" y="987" width="265" height="116" rx="13" fill="#70eb65"/><text x="2916.5" y="1008.9"><tspan x="2916.5">lug_boot ≤ 1.5</tspan><tspan x="2916.5" dy="21.3">entropy = 0.684</tspan><tspan x="2916.5" dy="21.3">samples = 0.7%</tspan><tspan x="2916.5" dy="21.3">value = [0.182, 0.818, 0.0, 0.0]</tspan><tspan x="2916.5" dy="21.3">class = 1</tspan></text></g>
<g id="n62"><rect class="g" x="2645" y="1161.7" width="225" height="94" rx="13"/><text x="2757.5" y="1183.25"><tspan x="2757.5">entropy = 0.0</tspan><tspan x="2757.5" dy="21.3">samples = 0.5%</tspan><tspan x="2757.5" dy="21.3">value = [0.0, 1.0, 0.0, 0.0]</tspan><tspan x="2757.5" dy="21.3">class = 1</tspan></text></g>
<g id="n63"><rect class="w" x="2895" y="1150.7" width="225" height="116" rx="13"/><text x="3007.5" y="1172.6"><tspan x="3007.5">persons ≤ 1.5</tspan><tspan x="3007.5" dy="21.3">entropy = 1.0</tspan><tspan x="3007.5" dy="21.3">samples = 0.3%</tspan><tspan x="3007.5" dy="21.3">value = [0.5, 0.5, 0.0, 0.0]</tspan><tspan x="3007.5" dy="21.3">class = 0</tspan></text></g>
<g id="n64"><rect class="g" x="2828" y="1325.4" width="225" height="94" rx="13"/><text x="2940.5" y="1346.95"><tspan x="2940.5">entropy = 0.0</tspan><tspan x="2940.5" dy="21.3">samples = 0.1%</tspan><tspan x="2940.5" dy="21.3">value = [0.0, 1.0, 0.0, 0.0]</tspan><tspan x="2940.5" dy="21.3">class = 1</tspan></text></g>
<g id="n65"><rect class="o" x="3077" y="1325.4" width="225" height="94" rx="13"/><text x="3189.5" y="1346.95"><tspan x="3189.5">entropy = 0.0</tspan><tspan x="3189.5" dy="21.3">samples = 0.1%</tspan><tspan x="3189.5" dy="21.3">value = [1.0, 0.0, 0.0, 0.0]</tspan><tspan x="3189.5" dy="21.3">class = 0</tspan></text></g>
<g id="n66"><rect class="g" x="3073" y="998" width="225" height="94" rx="13"/><text x="3185.5" y="1019.55"><tspan x="3185.5">entropy = 0.0</tspan><tspan x="3185.5" dy="21.3">samples = 2.1%</tspan><tspan x="3185.5" dy="21.3">value = [0.0, 1.0, 0.0, 0.0]</tspan><tspan x="3185.5" dy="21.3">class = 1</tspan></text></g>
<g id="n67"><rect x="3428" y="495.9" width="265" height="116" rx="13" fill="#fdf7f2"/><text x="3560.5" y="517.8"><tspan x="3560.5">buying ≤ 0.5</tspan><tspan x="3560.5" dy="21.3">entropy = 0.999</tspan><tspan x="3560.5" dy="21.3">samples = 5.6%</tspan><tspan x="3560.5" dy="21.3">value = [0.517, 0.483, 0.0, 0.0]</tspan><tspan x="3560.5" dy="21.3">class = 0</tspan></text></g>
<g id="n68"><rect class="o" x="3371" y="670.6" width="225" height="94" rx="13"/><text x="3483.5" y="692.15"><tspan x="3483.5">entropy = 0.0</tspan><tspan x="3483.5" dy="21.3">samples = 1.4%</tspan><tspan x="3483.5" dy="21.3">value = [1.0, 0.0, 0.0, 0.0]</tspan><tspan x="3483.5" dy="21.3">class = 0</tspan></text></g>
<g id="n69"><rect x="3620" y="659.6" width="265" height="116" rx="13" fill="#acf3a5"/><text x="3752.5" y="681.5"><tspan x="3752.5">buying ≤ 2.5</tspan><tspan x="3752.5" dy="21.3">entropy = 0.937</tspan><tspan x="3752.5" dy="21.3">samples = 4.2%</tspan><tspan x="3752.5" dy="21.3">value = [0.354, 0.646, 0.0, 0.0]</tspan><tspan x="3752.5" dy="21.3">class = 1</tspan></text></g>
<g id="n70"><rect x="3572" y="823.3" width="265" height="116" rx="13" fill="#50e642"/><text x="3704.5" y="845.2"><tspan x="3704.5">doors ≤ 0.5</tspan><tspan x="3704.5" dy="21.3">entropy = 0.267</tspan><tspan x="3704.5" dy="21.3">samples = 2.8%</tspan><tspan x="3704.5" dy="21.3">value = [0.045, 0.955, 0.0, 0.0]</tspan><tspan x="3704.5" dy="21.3">class = 1</tspan></text></g>
<g id="n71"><rect x="3419" y="987" width="225" height="116" rx="13" fill="#75ec6a"/><text x="3531.5" y="1008.9"><tspan x="3531.5">lug_boot ≤ 1.5</tspan><tspan x="3531.5" dy="21.3">entropy = 0.722</tspan><tspan x="3531.5" dy="21.3">samples = 0.6%</tspan><tspan x="3531.5" dy="21.3">value = [0.2, 0.8, 0.0, 0.0]</tspan><tspan x="3531.5" dy="21.3">class = 1</tspan></text></g>
<g id="n72"><rect class="g" x="3248" y="1161.7" width="225" height="94" rx="13"/><text x="3360.5" y="1183.25"><tspan x="3360.5">entropy = 0.0</tspan><tspan x="3360.5" dy="21.3">samples = 0.4%</tspan><tspan x="3360.5" dy="21.3">value = [0.0, 1.0, 0.0, 0.0]</tspan><tspan x="3360.5" dy="21.3">class = 1</tspan></text></g>
<g id="n73"><rect class="w" x="3497" y="1150.7" width="225" height="116" rx="13"/><text x="3609.5" y="1172.6"><tspan x="3609.5">persons ≤ 1.5</tspan><tspan x="3609.5" dy="21.3">entropy = 1.0</tspan><tspan x="3609.5" dy="21.3">samples = 0.3%</tspan><tspan x="3609.5" dy="21.3">value = [0.5, 0.5, 0.0, 0.0]</tspan><tspan x="3609.5" dy="21.3">class = 0</tspan></text></g>
<g id="n74"><rect class="g" x="3327" y="1325.4" width="225" height="94" rx="13"/><text x="3439.5" y="1346.95"><tspan x="3439.5">entropy = 0.0</tspan><tspan x="3439.5" dy="21.3">samples = 0.1%</tspan><tspan x="3439.5" dy="21.3">value = [0.0, 1.0, 0.0, 0.0]</tspan><tspan x="3439.5" dy="21.3">class = 1</tspan></text></g>
<g id="n75"><rect class="o" x="3576" y="1325.4" width="225" height="94" rx="13"/><text x="3688.5" y="1346.95"><tspan x="3688.5">entropy = 0.0</tspan><tspan x="3688.5" dy="21.3">samples = 0.1%</tspan><tspan x="3688.5" dy="21.3">value = [1.0, 0.0, 0.0, 0.0]</tspan><tspan x="3688.5" dy="21.3">class = 0</tspan></text></g>
<g id="n76"><rect class="g" x="3668" y="998" width="225" height="94" rx="13"/><text x="3780.5" y="1019.55"><tspan x="3780.5">entropy = 0.0</tspan><tspan x="3780.5" dy="21.3">samples = 2.2%</tspan><tspan x="3780.5" dy="21.3">value = [0.0, 1.0, 0.0, 0.0]</tspan><tspan x="3780.5" dy="21.3">class = 1</tspan></text></g>
<g id="n77"><rect class="o" x="3861" y="834.3" width="225" height="94" rx="13"/><text x="3973.5" y="855.85"><tspan x="3973.5">entropy = 0.0</tspan><tspan x="3973.5" dy="21.3">samples = 1.4%</tspan><tspan x="3973.5" dy="21.3">value = [1.0, 0.0, 0.0, 0.0]</tspan><tspan x="3973.5" dy="21.3">class = 0</tspan></text></g>
<g id="n78"><rect x="4320" y="332.2" width="275" height="116" rx="13" fill="#eeaf81"/><text x="4457.5" y="354.1"><tspan x="4457.5">safety ≤ 1.5</tspan><tspan x="4457.5" dy="21.3">entropy = 1.042</tspan><tspan x="4457.5" dy="21.3">samples = 44.4%</tspan><tspan x="4457.5" dy="21.3">value = [0.721, 0.23, 0.049, 0.0]</tspan><tspan x="4457.5" dy="21.3">class = 0</tspan></text></g>
<g id="n79"><rect class="o" x="4345" y="506.9" width="225" height="94" rx="13"/><text x="4457.5" y="528.45"><tspan x="4457.5">entropy = 0.0</tspan><tspan x="4457.5" dy="21.3">samples = 23.0%</tspan><tspan x="4457.5" dy="21.3">value = [1.0, 0.0, 0.0, 0.0]</tspan><tspan x="4457.5" dy="21.3">class = 0</tspan></text></g>
<g id="n80"><rect x="5384" y="495.9" width="275" height="116" rx="13" fill="#edfceb"/><text x="5521.5" y="517.8"><tspan x="5521.5">lug_boot ≤ 1.5</tspan><tspan x="5521.5" dy="21.3">entropy = 1.371</tspan><tspan x="5521.5" dy="21.3">samples = 21.4%</tspan><tspan x="5521.5" dy="21.3">value = [0.42, 0.477, 0.102, 0.0]</tspan><tspan x="5521.5" dy="21.3">class = 1</tspan></text></g>
<g id="n81"><rect x="5384" y="659.6" width="275" height="116" rx="13" fill="#b5f5b0"/><text x="5521.5" y="681.5"><tspan x="5521.5">maint ≤ 2.5</tspan><tspan x="5521.5" dy="21.3">entropy = 1.389</tspan><tspan x="5521.5" dy="21.3">samples = 14.5%</tspan><tspan x="5521.5" dy="21.3">value = [0.28, 0.569, 0.151, 0.0]</tspan><tspan x="5521.5" dy="21.3">class = 1</tspan></text></g>
<g id="n82"><rect x="5201" y="823.3" width="265" height="116" rx="13" fill="#9df196"/><text x="5333.5" y="845.2"><tspan x="5333.5">buying ≤ 2.5</tspan><tspan x="5333.5" dy="21.3">entropy = 1.331</tspan><tspan x="5333.5" dy="21.3">samples = 10.9%</tspan><tspan x="5333.5" dy="21.3">value = [0.176, 0.624, 0.2, 0.0]</tspan><tspan x="5333.5" dy="21.3">class = 1</tspan></text></g>
<g id="n83"><rect x="4604" y="987" width="284" height="116" rx="13" fill="#a1f29a"/><text x="4746" y="1008.9"><tspan x="4746">buying ≤ 0.5</tspan><tspan x="4746" dy="21.3">entropy = 1.24</tspan><tspan x="4746" dy="21.3">samples = 8.2%</tspan><tspan x="4746" dy="21.3">value = [0.094, 0.641, 0.266, 0.0]</tspan><tspan x="4746" dy="21.3">class = 1</tspan></text></g>
<g id="n84"><rect x="4095" y="1150.7" width="264" height="116" rx="13" fill="#78ec6d"/><text x="4227" y="1172.6"><tspan x="4227">doors ≤ 1.5</tspan><tspan x="4227" dy="21.3">entropy = 0.74</tspan><tspan x="4227" dy="21.3">samples = 2.8%</tspan><tspan x="4227" dy="21.3">value = [0.209, 0.791, 0.0, 0.0]</tspan><tspan x="4227" dy="21.3">class = 1</tspan></text></g>
<g id="n85"><rect x="3825" y="1314.4" width="265" height="116" rx="13" fill="#c6f7c2"/><text x="3957.5" y="1336.3"><tspan x="3957.5">lug_boot ≤ 0.5</tspan><tspan x="3957.5" dy="21.3">entropy = 0.976</tspan><tspan x="3957.5" dy="21.3">samples = 1.4%</tspan><tspan x="3957.5" dy="21.3">value = [0.409, 0.591, 0.0, 0.0]</tspan><tspan x="3957.5" dy="21.3">class = 1</tspan></text></g>
<g id="n86"><rect class="g" x="3585" y="1489.1" width="225" height="94" rx="13"/><text x="3697.5" y="1510.65"><tspan x="3697.5">entropy = 0.0</tspan><tspan x="3697.5" dy="21.3">samples = 0.6%</tspan><tspan x="3697.5" dy="21.3">value = [0.0, 1.0, 0.0, 0.0]</tspan><tspan x="3697.5" dy="21.3">class = 1</tspan></text></g>
<g id="n87"><rect x="3835" y="1478.1" width="245" height="116" rx="13" fill="#eeab7b"/><text x="3957.5" y="1500"><tspan x="3957.5">doors ≤ 0.5</tspan><tspan x="3957.5" dy="21.3">entropy = 0.811</tspan><tspan x="3957.5" dy="21.3">samples = 0.8%</tspan><tspan x="3957.5" dy="21.3">value = [0.75, 0.25, 0.0, 0.0]</tspan><tspan x="3957.5" dy="21.3">class = 0</tspan></text></g>
<g id="n88"><rect class="o" x="3596" y="1652.8" width="225" height="94" rx="13"/><text x="3708.5" y="1674.35"><tspan x="3708.5">entropy = 0.0</tspan><tspan x="3708.5" dy="21.3">samples = 0.4%</tspan><tspan x="3708.5" dy="21.3">value = [1.0, 0.0, 0.0, 0.0]</tspan><tspan x="3708.5" dy="21.3">class = 0</tspan></text></g>
<g id="n89"><rect class="w" x="3845" y="1641.8" width="226" height="116" rx="13"/><text x="3958" y="1663.7"><tspan x="3958">persons ≤ 1.5</tspan><tspan x="3958" dy="21.3">entropy = 1.0</tspan><tspan x="3958" dy="21.3">samples = 0.4%</tspan><tspan x="3958" dy="21.3">value = [0.5, 0.5, 0.0, 0.0]</tspan><tspan x="3958" dy="21.3">class = 0</tspan></text></g>
<g id="n90"><rect class="o" x="3599" y="1816.5" width="225" height="94" rx="13"/><text x="3711.5" y="1838.05"><tspan x="3711.5">entropy = 0.0</tspan><tspan x="3711.5" dy="21.3">samples = 0.2%</tspan><tspan x="3711.5" dy="21.3">value = [1.0, 0.0, 0.0, 0.0]</tspan><tspan x="3711.5" dy="21.3">class = 0</tspan></text></g>
<g id="n91"><rect class="g" x="3848" y="1816.5" width="225" height="94" rx="13"/><text x="3960.5" y="1838.05"><tspan x="3960.5">entropy = 0.0</tspan><tspan x="3960.5" dy="21.3">samples = 0.2%</tspan><tspan x="3960.5" dy="21.3">value = [0.0, 1.0, 0.0, 0.0]</tspan><tspan x="3960.5" dy="21.3">class = 1</tspan></text></g>
<g id="n92"><rect class="g" x="4115" y="1325.4" width="225" height="94" rx="13"/><text x="4227.5" y="1346.95"><tspan x="4227.5">entropy = 0.0</tspan><tspan x="4227.5" dy="21.3">samples = 1.4%</tspan><tspan x="4227.5" dy="21.3">value = [0.0, 1.0, 0.0, 0.0]</tspan><tspan x="4227.5" dy="21.3">class = 1</tspan></text></g>
<g id="n93"><rect x="4614" y="1150.7" width="264" height="116" rx="13" fill="#ccf8c9"/><text x="4746" y="1172.6"><tspan x="4746">maint ≤ 0.5</tspan><tspan x="4746" dy="21.3">entropy = 1.165</tspan><tspan x="4746" dy="21.3">samples = 5.5%</tspan><tspan x="4746" dy="21.3">value = [0.035, 0.565, 0.4, 0.0]</tspan><tspan x="4746" dy="21.3">class = 1</tspan></text></g>
<g id="n94"><rect x="4364" y="1314.4" width="265" height="116" rx="13" fill="#5ce850"/><text x="4496.5" y="1336.3"><tspan x="4496.5">lug_boot ≤ 0.5</tspan><tspan x="4496.5" dy="21.3">entropy = 0.48</tspan><tspan x="4496.5" dy="21.3">samples = 1.9%</tspan><tspan x="4496.5" dy="21.3">value = [0.103, 0.897, 0.0, 0.0]</tspan><tspan x="4496.5" dy="21.3">class = 1</tspan></text></g>
<g id="n95"><rect class="g" x="4111" y="1489.1" width="225" height="94" rx="13"/><text x="4223.5" y="1510.65"><tspan x="4223.5">entropy = 0.0</tspan><tspan x="4223.5" dy="21.3">samples = 1.0%</tspan><tspan x="4223.5" dy="21.3">value = [0.0, 1.0, 0.0, 0.0]</tspan><tspan x="4223.5" dy="21.3">class = 1</tspan></text></g>
<g id="n96"><rect x="4360" y="1478.1" width="265" height="116" rx="13" fill="#7eed74"/><text x="4492.5" y="1500"><tspan x="4492.5">buying ≤ 1.5</tspan><tspan x="4492.5" dy="21.3">entropy = 0.779</tspan><tspan x="4492.5" dy="21.3">samples = 0.8%</tspan><tspan x="4492.5" dy="21.3">value = [0.231, 0.769, 0.0, 0.0]</tspan><tspan x="4492.5" dy="21.3">class = 1</tspan></text></g>
<g id="n97"><rect class="g" x="4095" y="1652.8" width="225" height="94" rx="13"/><text x="4207.5" y="1674.35"><tspan x="4207.5">entropy = 0.0</tspan><tspan x="4207.5" dy="21.3">samples = 0.5%</tspan><tspan x="4207.5" dy="21.3">value = [0.0, 1.0, 0.0, 0.0]</tspan><tspan x="4207.5" dy="21.3">class = 1</tspan></text></g>
<g id="n98"><rect x="4344" y="1641.8" width="225" height="116" rx="13" fill="#f6d5bd"/><text x="4456.5" y="1663.7"><tspan x="4456.5">doors ≤ 1.5</tspan><tspan x="4456.5" dy="21.3">entropy = 0.971</tspan><tspan x="4456.5" dy="21.3">samples = 0.3%</tspan><tspan x="4456.5" dy="21.3">value = [0.6, 0.4, 0.0, 0.0]</tspan><tspan x="4456.5" dy="21.3">class = 0</tspan></text></g>
<g id="n99"><rect class="o" x="4097" y="1816.5" width="225" height="94" rx="13"/><text x="4209.5" y="1838.05"><tspan x="4209.5">entropy = 0.0</tspan><tspan x="4209.5" dy="21.3">samples = 0.2%</tspan><tspan x="4209.5" dy="21.3">value = [1.0, 0.0, 0.0, 0.0]</tspan><tspan x="4209.5" dy="21.3">class = 0</tspan></text></g>
<g id="n100"><rect class="g" x="4347" y="1816.5" width="225" height="94" rx="13"/><text x="4459.5" y="1838.05"><tspan x="4459.5">entropy = 0.0</tspan><tspan x="4459.5" dy="21.3">samples = 0.1%</tspan><tspan x="4459.5" dy="21.3">value = [0.0, 1.0, 0.0, 0.0]</tspan><tspan x="4459.5" dy="21.3">class = 1</tspan></text></g>
<g id="n101"><rect x="4748" y="1314.4" width="265" height="116" rx="13" fill="#b9dcf6"/><text x="4880.5" y="1336.3"><tspan x="4880.5">maint ≤ 1.5</tspan><tspan x="4880.5" dy="21.3">entropy = 0.967</tspan><tspan x="4880.5" dy="21.3">samples = 3.6%</tspan><tspan x="4880.5" dy="21.3">value = [0.0, 0.393, 0.607, 0.0]</tspan><tspan x="4880.5" dy="21.3">class = 2</tspan></text></g>
<g id="n102"><rect x="4748" y="1478.1" width="265" height="116" rx="13" fill="#62b1ea"/><text x="4880.5" y="1500"><tspan x="4880.5">lug_boot ≤ 0.5</tspan><tspan x="4880.5" dy="21.3">entropy = 0.663</tspan><tspan x="4880.5" dy="21.3">samples = 1.9%</tspan><tspan x="4880.5" dy="21.3">value = [0.0, 0.172, 0.828, 0.0]</tspan><tspan x="4880.5" dy="21.3">class = 2</tspan></text></g>
<g id="n103"><rect class="b" x="4593" y="1652.8" width="225" height="94" rx="13"/><text x="4705.5" y="1674.35"><tspan x="4705.5">entropy = 0.0</tspan><tspan x="4705.5" dy="21.3">samples = 1.0%</tspan><tspan x="4705.5" dy="21.3">value = [0.0, 0.0, 1.0, 0.0]</tspan><tspan x="4705.5" dy="21.3">class = 2</tspan></text></g>
<g id="n104"><rect x="4843" y="1641.8" width="265" height="116" rx="13" fill="#a7d3f3"/><text x="4975.5" y="1663.7"><tspan x="4975.5">doors ≤ 1.5</tspan><tspan x="4975.5" dy="21.3">entropy = 0.94</tspan><tspan x="4975.5" dy="21.3">samples = 0.9%</tspan><tspan x="4975.5" dy="21.3">value = [0.0, 0.357, 0.643, 0.0]</tspan><tspan x="4975.5" dy="21.3">class = 2</tspan></text></g>
<g id="n105"><rect x="4599" y="1805.5" width="264" height="116" rx="13" fill="#6cea61"/><text x="4731" y="1827.4"><tspan x="4731">persons ≤ 1.5</tspan><tspan x="4731" dy="21.3">entropy = 0.65</tspan><tspan x="4731" dy="21.3">samples = 0.4%</tspan><tspan x="4731" dy="21.3">value = [0.0, 0.833, 0.167, 0.0]</tspan><tspan x="4731" dy="21.3">class = 1</tspan></text></g>
<g id="n106"><rect class="g" x="4589" y="1980.2" width="225" height="94" rx="13"/><text x="4701.5" y="2001.75"><tspan x="4701.5">entropy = 0.0</tspan><tspan x="4701.5" dy="21.3">samples = 0.3%</tspan><tspan x="4701.5" dy="21.3">value = [0.0, 1.0, 0.0, 0.0]</tspan><tspan x="4701.5" dy="21.3">class = 1</tspan></text></g>
<g id="n107"><rect class="w" x="4839" y="1969.2" width="225" height="116" rx="13"/><text x="4951.5" y="1991.1"><tspan x="4951.5">doors ≤ 0.5</tspan><tspan x="4951.5" dy="21.3">entropy = 1.0</tspan><tspan x="4951.5" dy="21.3">samples = 0.1%</tspan><tspan x="4951.5" dy="21.3">value = [0.0, 0.5, 0.5, 0.0]</tspan><tspan x="4951.5" dy="21.3">class = 1</tspan></text></g>
<g id="n108"><rect class="g" x="4721" y="2143.9" width="225" height="94" rx="13"/><text x="4833.5" y="2165.45"><tspan x="4833.5">entropy = 0.0</tspan><tspan x="4833.5" dy="21.3">samples = 0.1%</tspan><tspan x="4833.5" dy="21.3">value = [0.0, 1.0, 0.0, 0.0]</tspan><tspan x="4833.5" dy="21.3">class = 1</tspan></text></g>
<g id="n109"><rect class="b" x="4970" y="2143.9" width="225" height="94" rx="13"/><text x="5082.5" y="2165.45"><tspan x="5082.5">entropy = 0.0</tspan><tspan x="5082.5" dy="21.3">samples = 0.1%</tspan><tspan x="5082.5" dy="21.3">value = [0.0, 0.0, 1.0, 0.0]</tspan><tspan x="5082.5" dy="21.3">class = 2</tspan></text></g>
<g id="n110"><rect class="b" x="4888" y="1816.5" width="225" height="94" rx="13"/><text x="5000.5" y="1838.05"><tspan x="5000.5">entropy = 0.0</tspan><tspan x="5000.5" dy="21.3">samples = 0.5%</tspan><tspan x="5000.5" dy="21.3">value = [0.0, 0.0, 1.0, 0.0]</tspan><tspan x="5000.5" dy="21.3">class = 2</tspan></text></g>
<g id="n111"><rect x="5142" y="1478.1" width="245" height="116" rx="13" fill="#b3f4ad"/><text x="5264.5" y="1500"><tspan x="5264.5">buying ≤ 1.5</tspan><tspan x="5264.5" dy="21.3">entropy = 0.951</tspan><tspan x="5264.5" dy="21.3">samples = 1.7%</tspan><tspan x="5264.5" dy="21.3">value = [0.0, 0.63, 0.37, 0.0]</tspan><tspan x="5264.5" dy="21.3">class = 1</tspan></text></g>
<g id="n112"><rect x="5132" y="1641.8" width="265" height="116" rx="13" fill="#74baed"/><text x="5264.5" y="1663.7"><tspan x="5264.5">lug_boot ≤ 0.5</tspan><tspan x="5264.5" dy="21.3">entropy = 0.779</tspan><tspan x="5264.5" dy="21.3">samples = 0.8%</tspan><tspan x="5264.5" dy="21.3">value = [0.0, 0.231, 0.769, 0.0]</tspan><tspan x="5264.5" dy="21.3">class = 2</tspan></text></g>
<g id="n113"><rect class="b" x="5143" y="1816.5" width="225" height="94" rx="13"/><text x="5255.5" y="1838.05"><tspan x="5255.5">entropy = 0.0</tspan><tspan x="5255.5" dy="21.3">samples = 0.5%</tspan><tspan x="5255.5" dy="21.3">value = [0.0, 0.0, 1.0, 0.0]</tspan><tspan x="5255.5" dy="21.3">class = 2</tspan></text></g>
<g id="n114"><rect class="w" x="5392" y="1805.5" width="225" height="116" rx="13"/><text x="5504.5" y="1827.4"><tspan x="5504.5">doors ≤ 0.5</tspan><tspan x="5504.5" dy="21.3">entropy = 1.0</tspan><tspan x="5504.5" dy="21.3">samples = 0.4%</tspan><tspan x="5504.5" dy="21.3">value = [0.0, 0.5, 0.5, 0.0]</tspan><tspan x="5504.5" dy="21.3">class = 1</tspan></text></g>
<g id="n115"><rect class="g" x="5190" y="1980.2" width="225" height="94" rx="13"/><text x="5302.5" y="2001.75"><tspan x="5302.5">entropy = 0.0</tspan><tspan x="5302.5" dy="21.3">samples = 0.1%</tspan><tspan x="5302.5" dy="21.3">value = [0.0, 1.0, 0.0, 0.0]</tspan><tspan x="5302.5" dy="21.3">class = 1</tspan></text></g>
<g id="n116"><rect x="5440" y="1969.2" width="244" height="116" rx="13" fill="#7bbeee"/><text x="5562" y="1991.1"><tspan x="5562">persons ≤ 1.5</tspan><tspan x="5562" dy="21.3">entropy = 0.811</tspan><tspan x="5562" dy="21.3">samples = 0.3%</tspan><tspan x="5562" dy="21.3">value = [0.0, 0.25, 0.75, 0.0]</tspan><tspan x="5562" dy="21.3">class = 2</tspan></text></g>
<g id="n117"><rect class="w" x="5228" y="2132.9" width="225" height="116" rx="13"/><text x="5340.5" y="2154.8"><tspan x="5340.5">doors ≤ 1.5</tspan><tspan x="5340.5" dy="21.3">entropy = 1.0</tspan><tspan x="5340.5" dy="21.3">samples = 0.1%</tspan><tspan x="5340.5" dy="21.3">value = [0.0, 0.5, 0.5, 0.0]</tspan><tspan x="5340.5" dy="21.3">class = 1</tspan></text></g>
<g id="n118"><rect class="g" x="5103" y="2296.7" width="225" height="94" rx="13"/><text x="5215.5" y="2318.25"><tspan x="5215.5">entropy = 0.0</tspan><tspan x="5215.5" dy="21.3">samples = 0.1%</tspan><tspan x="5215.5" dy="21.3">value = [0.0, 1.0, 0.0, 0.0]</tspan><tspan x="5215.5" dy="21.3">class = 1</tspan></text></g>
<g id="n119"><rect class="b" x="5352" y="2296.7" width="225" height="94" rx="13"/><text x="5464.5" y="2318.25"><tspan x="5464.5">entropy = 0.0</tspan><tspan x="5464.5" dy="21.3">samples = 0.1%</tspan><tspan x="5464.5" dy="21.3">value = [0.0, 0.0, 1.0, 0.0]</tspan><tspan x="5464.5" dy="21.3">class = 2</tspan></text></g>
<g id="n120"><rect class="b" x="5477" y="2143.9" width="225" height="94" rx="13"/><text x="5589.5" y="2165.45"><tspan x="5589.5">entropy = 0.0</tspan><tspan x="5589.5" dy="21.3">samples = 0.1%</tspan><tspan x="5589.5" dy="21.3">value = [0.0, 0.0, 1.0, 0.0]</tspan><tspan x="5589.5" dy="21.3">class = 2</tspan></text></g>
<g id="n121"><rect class="g" x="5422" y="1652.8" width="225" height="94" rx="13"/><text x="5534.5" y="1674.35"><tspan x="5534.5">entropy = 0.0</tspan><tspan x="5534.5" dy="21.3">samples = 0.9%</tspan><tspan x="5534.5" dy="21.3">value = [0.0, 1.0, 0.0, 0.0]</tspan><tspan x="5534.5" dy="21.3">class = 1</tspan></text></g>
<g id="n122"><rect x="5201" y="987" width="265" height="116" rx="13" fill="#d1f9ce"/><text x="5333.5" y="1008.9"><tspan x="5333.5">maint ≤ 0.5</tspan><tspan x="5333.5" dy="21.3">entropy = 0.985</tspan><tspan x="5333.5" dy="21.3">samples = 2.7%</tspan><tspan x="5333.5" dy="21.3">value = [0.429, 0.571, 0.0, 0.0]</tspan><tspan x="5333.5" dy="21.3">class = 1</tspan></text></g>
<g id="n123"><rect class="o" x="5195" y="1161.7" width="225" height="94" rx="13"/><text x="5307.5" y="1183.25"><tspan x="5307.5">entropy = 0.0</tspan><tspan x="5307.5" dy="21.3">samples = 0.8%</tspan><tspan x="5307.5" dy="21.3">value = [1.0, 0.0, 0.0, 0.0]</tspan><tspan x="5307.5" dy="21.3">class = 0</tspan></text></g>
<g id="n124"><rect x="5444" y="1150.7" width="225" height="116" rx="13" fill="#75ec6a"/><text x="5556.5" y="1172.6"><tspan x="5556.5">lug_boot ≤ 0.5</tspan><tspan x="5556.5" dy="21.3">entropy = 0.722</tspan><tspan x="5556.5" dy="21.3">samples = 1.9%</tspan><tspan x="5556.5" dy="21.3">value = [0.2, 0.8, 0.0, 0.0]</tspan><tspan x="5556.5" dy="21.3">class = 1</tspan></text></g>
<g id="n125"><rect class="g" x="5416" y="1325.4" width="225" height="94" rx="13"/><text x="5528.5" y="1346.95"><tspan x="5528.5">entropy = 0.0</tspan><tspan x="5528.5" dy="21.3">samples = 1.0%</tspan><tspan x="5528.5" dy="21.3">value = [0.0, 1.0, 0.0, 0.0]</tspan><tspan x="5528.5" dy="21.3">class = 1</tspan></text></g>
<g id="n126"><rect x="5665" y="1314.4" width="225" height="116" rx="13" fill="#c2f6bd"/><text x="5777.5" y="1336.3"><tspan x="5777.5">doors ≤ 1.5</tspan><tspan x="5777.5" dy="21.3">entropy = 0.971</tspan><tspan x="5777.5" dy="21.3">samples = 1.0%</tspan><tspan x="5777.5" dy="21.3">value = [0.4, 0.6, 0.0, 0.0]</tspan><tspan x="5777.5" dy="21.3">class = 1</tspan></text></g>
<g id="n127"><rect x="5653" y="1478.1" width="245" height="116" rx="13" fill="#eeab7b"/><text x="5775.5" y="1500"><tspan x="5775.5">persons ≤ 1.5</tspan><tspan x="5775.5" dy="21.3">entropy = 0.811</tspan><tspan x="5775.5" dy="21.3">samples = 0.5%</tspan><tspan x="5775.5" dy="21.3">value = [0.75, 0.25, 0.0, 0.0]</tspan><tspan x="5775.5" dy="21.3">class = 0</tspan></text></g>
<g id="n128"><rect class="o" x="5671" y="1652.8" width="225" height="94" rx="13"/><text x="5783.5" y="1674.35"><tspan x="5783.5">entropy = 0.0</tspan><tspan x="5783.5" dy="21.3">samples = 0.3%</tspan><tspan x="5783.5" dy="21.3">value = [1.0, 0.0, 0.0, 0.0]</tspan><tspan x="5783.5" dy="21.3">class = 0</tspan></text></g>
<g id="n129"><rect class="w" x="5920" y="1641.8" width="225" height="116" rx="13"/><text x="6032.5" y="1663.7"><tspan x="6032.5">doors ≤ 0.5</tspan><tspan x="6032.5" dy="21.3">entropy = 1.0</tspan><tspan x="6032.5" dy="21.3">samples = 0.3%</tspan><tspan x="6032.5" dy="21.3">value = [0.5, 0.5, 0.0, 0.0]</tspan><tspan x="6032.5" dy="21.3">class = 0</tspan></text></g>
<g id="n130"><rect class="o" x="5689" y="1816.5" width="225" height="94" rx="13"/><text x="5801.5" y="1838.05"><tspan x="5801.5">entropy = 0.0</tspan><tspan x="5801.5" dy="21.3">samples = 0.1%</tspan><tspan x="5801.5" dy="21.3">value = [1.0, 0.0, 0.0, 0.0]</tspan><tspan x="5801.5" dy="21.3">class = 0</tspan></text></g>
<g id="n131"><rect class="g" x="5938" y="1816.5" width="225" height="94" rx="13"/><text x="6050.5" y="1838.05"><tspan x="6050.5">entropy = 0.0</tspan><tspan x="6050.5" dy="21.3">samples = 0.1%</tspan><tspan x="6050.5" dy="21.3">value = [0.0, 1.0, 0.0, 0.0]</tspan><tspan x="6050.5" dy="21.3">class = 1</tspan></text></g>
<g id="n132"><rect class="g" x="5923" y="1489.1" width="225" height="94" rx="13"/><text x="6035.5" y="1510.65"><tspan x="6035.5">entropy = 0.0</tspan><tspan x="6035.5" dy="21.3">samples = 0.5%</tspan><tspan x="6035.5" dy="21.3">value = [0.0, 1.0, 0.0, 0.0]</tspan><tspan x="6035.5" dy="21.3">class = 1</tspan></text></g>
<g id="n133"><rect x="5597" y="823.3" width="225" height="116" rx="13" fill="#f6d5bd"/><text x="5709.5" y="845.2"><tspan x="5709.5">buying ≤ 0.5</tspan><tspan x="5709.5" dy="21.3">entropy = 0.971</tspan><tspan x="5709.5" dy="21.3">samples = 3.5%</tspan><tspan x="5709.5" dy="21.3">value = [0.6, 0.4, 0.0, 0.0]</tspan><tspan x="5709.5" dy="21.3">class = 0</tspan></text></g>
<g id="n134"><rect class="o" x="5597" y="998" width="225" height="94" rx="13"/><text x="5709.5" y="1019.55"><tspan x="5709.5">entropy = 0.0</tspan><tspan x="5709.5" dy="21.3">samples = 0.9%</tspan><tspan x="5709.5" dy="21.3">value = [1.0, 0.0, 0.0, 0.0]</tspan><tspan x="5709.5" dy="21.3">class = 0</tspan></text></g>
<g id="n135"><rect x="5900" y="987" width="265" height="116" rx="13" fill="#e6fbe4"/><text x="6032.5" y="1008.9"><tspan x="6032.5">buying ≤ 2.5</tspan><tspan x="6032.5" dy="21.3">entropy = 0.996</tspan><tspan x="6032.5" dy="21.3">samples = 2.6%</tspan><tspan x="6032.5" dy="21.3">value = [0.463, 0.537, 0.0, 0.0]</tspan><tspan x="6032.5" dy="21.3">class = 1</tspan></text></g>
<g id="n136"><rect x="5900" y="1150.7" width="265" height="116" rx="13" fill="#71eb66"/><text x="6032.5" y="1172.6"><tspan x="6032.5">lug_boot ≤ 0.5</tspan><tspan x="6032.5" dy="21.3">entropy = 0.691</tspan><tspan x="6032.5" dy="21.3">samples = 1.7%</tspan><tspan x="6032.5" dy="21.3">value = [0.185, 0.815, 0.0, 0.0]</tspan><tspan x="6032.5" dy="21.3">class = 1</tspan></text></g>
<g id="n137"><rect class="g" x="5920" y="1325.4" width="225" height="94" rx="13"/><text x="6032.5" y="1346.95"><tspan x="6032.5">entropy = 0.0</tspan><tspan x="6032.5" dy="21.3">samples = 1.0%</tspan><tspan x="6032.5" dy="21.3">value = [0.0, 1.0, 0.0, 0.0]</tspan><tspan x="6032.5" dy="21.3">class = 1</tspan></text></g>
<g id="n138"><rect x="6173" y="1314.4" width="264" height="116" rx="13" fill="#cbf8c7"/><text x="6305" y="1336.3"><tspan x="6305">doors ≤ 1.5</tspan><tspan x="6305" dy="21.3">entropy = 0.98</tspan><tspan x="6305" dy="21.3">samples = 0.8%</tspan><tspan x="6305" dy="21.3">value = [0.417, 0.583, 0.0, 0.0]</tspan><tspan x="6305" dy="21.3">class = 1</tspan></text></g>
<g id="n139"><rect x="6173" y="1478.1" width="264" height="116" rx="13" fill="#efb388"/><text x="6305" y="1500"><tspan x="6305">persons ≤ 1.5</tspan><tspan x="6305" dy="21.3">entropy = 0.863</tspan><tspan x="6305" dy="21.3">samples = 0.5%</tspan><tspan x="6305" dy="21.3">value = [0.714, 0.286, 0.0, 0.0]</tspan><tspan x="6305" dy="21.3">class = 0</tspan></text></g>
<g id="n140"><rect class="o" x="6184" y="1652.8" width="225" height="94" rx="13"/><text x="6296.5" y="1674.35"><tspan x="6296.5">entropy = 0.0</tspan><tspan x="6296.5" dy="21.3">samples = 0.3%</tspan><tspan x="6296.5" dy="21.3">value = [1.0, 0.0, 0.0, 0.0]</tspan><tspan x="6296.5" dy="21.3">class = 0</tspan></text></g>
<g id="n141"><rect x="6434" y="1641.8" width="264" height="116" rx="13" fill="#a3f29c"/><text x="6566" y="1663.7"><tspan x="6566">doors ≤ 0.5</tspan><tspan x="6566" dy="21.3">entropy = 0.918</tspan><tspan x="6566" dy="21.3">samples = 0.2%</tspan><tspan x="6566" dy="21.3">value = [0.333, 0.667, 0.0, 0.0]</tspan><tspan x="6566" dy="21.3">class = 1</tspan></text></g>
<g id="n142"><rect class="o" x="6328" y="1816.5" width="225" height="94" rx="13"/><text x="6440.5" y="1838.05"><tspan x="6440.5">entropy = 0.0</tspan><tspan x="6440.5" dy="21.3">samples = 0.1%</tspan><tspan x="6440.5" dy="21.3">value = [1.0, 0.0, 0.0, 0.0]</tspan><tspan x="6440.5" dy="21.3">class = 0</tspan></text></g>
<g id="n143"><rect class="g" x="6577" y="1816.5" width="225" height="94" rx="13"/><text x="6689.5" y="1838.05"><tspan x="6689.5">entropy = 0.0</tspan><tspan x="6689.5" dy="21.3">samples = 0.1%</tspan><tspan x="6689.5" dy="21.3">value = [0.0, 1.0, 0.0, 0.0]</tspan><tspan x="6689.5" dy="21.3">class = 1</tspan></text></g>
<g id="n144"><rect class="g" x="6462" y="1489.1" width="225" height="94" rx="13"/><text x="6574.5" y="1510.65"><tspan x="6574.5">entropy = 0.0</tspan><tspan x="6574.5" dy="21.3">samples = 0.3%</tspan><tspan x="6574.5" dy="21.3">value = [0.0, 1.0, 0.0, 0.0]</tspan><tspan x="6574.5" dy="21.3">class = 1</tspan></text></g>
<g id="n145"><rect class="o" x="6189" y="1161.7" width="225" height="94" rx="13"/><text x="6301.5" y="1183.25"><tspan x="6301.5">entropy = 0.0</tspan><tspan x="6301.5" dy="21.3">samples = 0.9%</tspan><tspan x="6301.5" dy="21.3">value = [1.0, 0.0, 0.0, 0.0]</tspan><tspan x="6301.5" dy="21.3">class = 0</tspan></text></g>
<g id="n146"><rect x="6412" y="659.6" width="265" height="116" rx="13" fill="#efb489"/><text x="6544.5" y="681.5"><tspan x="6544.5">buying ≤ 2.5</tspan><tspan x="6544.5" dy="21.3">entropy = 0.865</tspan><tspan x="6544.5" dy="21.3">samples = 6.9%</tspan><tspan x="6544.5" dy="21.3">value = [0.713, 0.287, 0.0, 0.0]</tspan><tspan x="6544.5" dy="21.3">class = 0</tspan></text></g>
<g id="n147"><rect x="6412" y="823.3" width="265" height="116" rx="13" fill="#f6d4bb"/><text x="6544.5" y="845.2"><tspan x="6544.5">buying ≤ 0.5</tspan><tspan x="6544.5" dy="21.3">entropy = 0.969</tspan><tspan x="6544.5" dy="21.3">samples = 5.0%</tspan><tspan x="6544.5" dy="21.3">value = [0.603, 0.397, 0.0, 0.0]</tspan><tspan x="6544.5" dy="21.3">class = 0</tspan></text></g>
<g id="n148"><rect class="o" x="6432" y="998" width="225" height="94" rx="13"/><text x="6544.5" y="1019.55"><tspan x="6544.5">entropy = 0.0</tspan><tspan x="6544.5" dy="21.3">samples = 1.6%</tspan><tspan x="6544.5" dy="21.3">value = [1.0, 0.0, 0.0, 0.0]</tspan><tspan x="6544.5" dy="21.3">class = 0</tspan></text></g>
<g id="n149"><rect x="6805" y="987" width="265" height="116" rx="13" fill="#c9f7c5"/><text x="6937.5" y="1008.9"><tspan x="6937.5">maint ≤ 2.5</tspan><tspan x="6937.5" dy="21.3">entropy = 0.979</tspan><tspan x="6937.5" dy="21.3">samples = 3.4%</tspan><tspan x="6937.5" dy="21.3">value = [0.415, 0.585, 0.0, 0.0]</tspan><tspan x="6937.5" dy="21.3">class = 1</tspan></text></g>
<g id="n150"><rect x="6805" y="1150.7" width="265" height="116" rx="13" fill="#82ed79"/><text x="6937.5" y="1172.6"><tspan x="6937.5">doors ≤ 0.5</tspan><tspan x="6937.5" dy="21.3">entropy = 0.801</tspan><tspan x="6937.5" dy="21.3">samples = 2.6%</tspan><tspan x="6937.5" dy="21.3">value = [0.244, 0.756, 0.0, 0.0]</tspan><tspan x="6937.5" dy="21.3">class = 1</tspan></text></g>
<g id="n151"><rect x="6805" y="1314.4" width="265" height="116" rx="13" fill="#fbeade"/><text x="6937.5" y="1336.3"><tspan x="6937.5">persons ≤ 1.5</tspan><tspan x="6937.5" dy="21.3">entropy = 0.994</tspan><tspan x="6937.5" dy="21.3">samples = 0.7%</tspan><tspan x="6937.5" dy="21.3">value = [0.545, 0.455, 0.0, 0.0]</tspan><tspan x="6937.5" dy="21.3">class = 0</tspan></text></g>
<g id="n152"><rect class="g" x="6711" y="1489.1" width="225" height="94" rx="13"/><text x="6823.5" y="1510.65"><tspan x="6823.5">entropy = 0.0</tspan><tspan x="6823.5" dy="21.3">samples = 0.3%</tspan><tspan x="6823.5" dy="21.3">value = [0.0, 1.0, 0.0, 0.0]</tspan><tspan x="6823.5" dy="21.3">class = 1</tspan></text></g>
<g id="n153"><rect class="o" x="6960" y="1489.1" width="225" height="94" rx="13"/><text x="7072.5" y="1510.65"><tspan x="7072.5">entropy = 0.0</tspan><tspan x="7072.5" dy="21.3">samples = 0.4%</tspan><tspan x="7072.5" dy="21.3">value = [1.0, 0.0, 0.0, 0.0]</tspan><tspan x="7072.5" dy="21.3">class = 0</tspan></text></g>
<g id="n154"><rect x="7209" y="1314.4" width="265" height="116" rx="13" fill="#63e957"/><text x="7341.5" y="1336.3"><tspan x="7341.5">maint ≤ 0.5</tspan><tspan x="7341.5" dy="21.3">entropy = 0.567</tspan><tspan x="7341.5" dy="21.3">samples = 1.9%</tspan><tspan x="7341.5" dy="21.3">value = [0.133, 0.867, 0.0, 0.0]</tspan><tspan x="7341.5" dy="21.3">class = 1</tspan></text></g>
<g id="n155"><rect x="7209" y="1478.1" width="265" height="116" rx="13" fill="#dafad7"/><text x="7341.5" y="1500"><tspan x="7341.5">buying ≤ 1.5</tspan><tspan x="7341.5" dy="21.3">entropy = 0.991</tspan><tspan x="7341.5" dy="21.3">samples = 0.6%</tspan><tspan x="7341.5" dy="21.3">value = [0.444, 0.556, 0.0, 0.0]</tspan><tspan x="7341.5" dy="21.3">class = 1</tspan></text></g>
<g id="n156"><rect class="g" x="7104" y="1652.8" width="225" height="94" rx="13"/><text x="7216.5" y="1674.35"><tspan x="7216.5">entropy = 0.0</tspan><tspan x="7216.5" dy="21.3">samples = 0.3%</tspan><tspan x="7216.5" dy="21.3">value = [0.0, 1.0, 0.0, 0.0]</tspan><tspan x="7216.5" dy="21.3">class = 1</tspan></text></g>
<g id="n157"><rect class="o" x="7353" y="1652.8" width="225" height="94" rx="13"/><text x="7465.5" y="1674.35"><tspan x="7465.5">entropy = 0.0</tspan><tspan x="7465.5" dy="21.3">samples = 0.3%</tspan><tspan x="7465.5" dy="21.3">value = [1.0, 0.0, 0.0, 0.0]</tspan><tspan x="7465.5" dy="21.3">class = 0</tspan></text></g>
<g id="n158"><rect class="g" x="7499" y="1489.1" width="225" height="94" rx="13"/><text x="7611.5" y="1510.65"><tspan x="7611.5">entropy = 0.0</tspan><tspan x="7611.5" dy="21.3">samples = 1.4%</tspan><tspan x="7611.5" dy="21.3">value = [0.0, 1.0, 0.0, 0.0]</tspan><tspan x="7611.5" dy="21.3">class = 1</tspan></text></g>
<g id="n159"><rect class="o" x="7095" y="1161.7" width="225" height="94" rx="13"/><text x="7207.5" y="1183.25"><tspan x="7207.5">entropy = 0.0</tspan><tspan x="7207.5" dy="21.3">samples = 0.8%</tspan><tspan x="7207.5" dy="21.3">value = [1.0, 0.0, 0.0, 0.0]</tspan><tspan x="7207.5" dy="21.3">class = 0</tspan></text></g>
<g id="n160"><rect class="o" x="6701" y="834.3" width="225" height="94" rx="13"/><text x="6813.5" y="855.85"><tspan x="6813.5">entropy = 0.0</tspan><tspan x="6813.5" dy="21.3">samples = 1.9%</tspan><tspan x="6813.5" dy="21.3">value = [1.0, 0.0, 0.0, 0.0]</tspan><tspan x="6813.5" dy="21.3">class = 0</tspan></text></g>
</g>
</svg>
